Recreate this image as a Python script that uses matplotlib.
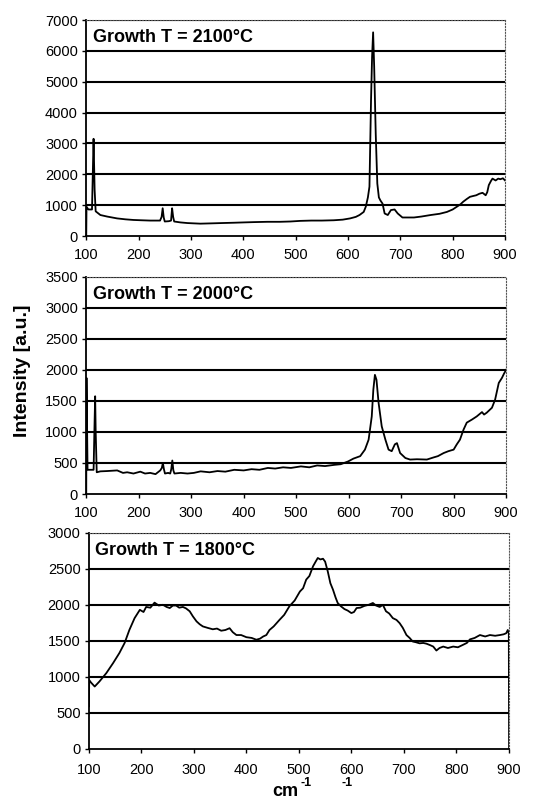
import numpy as np
import matplotlib.pyplot as plt

plt.rcParams['font.family'] = ['Liberation Sans', 'DejaVu Sans']

# Raman spectra (wavenumber, intensity)
x_2100 = [100, 100.5, 104, 111, 112.5, 114, 116, 118, 127, 140, 159, 175, 190, 205, 222, 235,
          241, 244, 246, 248, 250, 258, 262, 264, 266, 268, 280, 293, 305, 318, 340, 360,
          382, 400, 420, 446, 470, 490, 509, 530, 550, 573, 590, 604, 615, 622, 630, 634,
          638, 641, 644, 646, 648, 650, 653, 656, 659, 662, 666, 670, 676, 682, 689, 695,
          704, 715, 726, 740, 758, 775, 789, 800, 808, 815, 820, 827, 833, 840, 845, 851,
          857, 863, 866, 869, 873, 876, 882, 887, 891, 896, 900]
y_2100 = [0, 950, 860, 860, 2000, 3150, 1500, 800, 680, 630, 570, 540, 520, 510, 500, 500,
          500, 620, 900, 600, 470, 480, 500, 900, 620, 470, 440, 420, 410, 400, 410, 420,
          430, 440, 450, 460, 460, 470, 490, 500, 500, 510, 530, 570, 620, 680, 780, 950,
          1250, 1600, 4400, 5800, 6600, 5500, 3300, 1700, 1250, 1150, 1050, 730, 680, 840,
          860, 730, 600, 600, 600, 630, 680, 720, 780, 860, 950, 1030, 1110, 1200, 1270,
          1300, 1320, 1370, 1400, 1320, 1420, 1650, 1780, 1860, 1800, 1860, 1840, 1870, 1800]

x_2000 = [100, 100.5, 102.5, 110, 114, 116, 117, 118, 120, 127, 140, 159, 170, 178, 190,
          203, 212, 222, 232, 241, 244, 246, 248, 250, 256, 260, 262, 264, 266, 268, 280,
          293, 305, 318, 335, 350, 365, 382, 400, 415, 430, 446, 460, 475, 490, 509, 525,
          540, 555, 573, 585, 599, 609, 622, 631, 638, 644, 647, 650, 653, 657, 663, 670,
          676, 682, 688, 692, 698, 708, 717, 730, 749, 762, 770, 781, 790, 800, 806, 812,
          819, 825, 835, 844, 854, 858, 863, 868, 873, 879, 886, 892, 896, 900]
y_2000 = [0, 1870, 390, 390, 390, 1200, 1575, 1000, 350, 365, 370, 380, 340, 350, 330,
          360, 330, 340, 320, 380, 420, 500, 400, 330, 340, 330, 400, 540, 380, 330, 340,
          330, 340, 365, 350, 370, 360, 390, 380, 400, 390, 420, 410, 430, 420, 445, 430,
          460, 450, 470, 480, 525, 570, 610, 715, 875, 1250, 1680, 1920, 1840, 1470, 1090,
          875, 715, 690, 800, 820, 660, 580, 555, 560, 555, 590, 610, 660, 690, 715, 800,
          875, 1040, 1150, 1200, 1250, 1320, 1280, 1310, 1350, 1390, 1520, 1790, 1870, 1940, 2000]

x_1800 = [100, 100.5, 104, 111, 120, 133, 146, 158, 168, 177, 187, 197, 204, 209, 217, 225,
          233, 241, 248, 254, 260, 266, 272, 279, 285, 292, 298, 305, 311, 317, 326, 336,
          344, 352, 360, 368, 374, 381, 390, 400, 410, 419, 426, 432, 438, 444, 452, 463,
          472, 482, 492, 502, 508, 514, 520, 527, 532, 536, 541, 546, 550, 555, 560, 565,
          570, 574, 580, 587, 593, 600, 605, 610, 617, 625, 633, 641, 647, 654, 660, 666,
          672, 679, 686, 692, 698, 705, 711, 717, 723, 730, 737, 743, 750, 756, 762, 768,
          775, 784, 794, 803, 813, 820, 826, 835, 845, 855, 864, 874, 883, 890, 895, 898,
          900, 900.5]
y_1800 = [590, 955, 920, 865, 935, 1050, 1190, 1330, 1470, 1650, 1815, 1930, 1900, 1970, 1960, 2030,
          1990, 2000, 1970, 1955, 1990, 1990, 1960, 1970, 1950, 1910, 1840, 1770, 1730, 1700, 1680, 1660,
          1670, 1640, 1650, 1675, 1620, 1580, 1580, 1550, 1540, 1515, 1530, 1560, 1580, 1650, 1700, 1790,
          1860, 1980, 2060, 2185, 2230, 2350, 2400, 2535, 2600, 2650, 2630, 2640, 2600, 2465, 2300, 2210,
          2100, 2025, 1980, 1940, 1920, 1885, 1900, 1955, 1960, 1985, 2000, 2025, 1990, 1970, 2000, 1910,
          1880, 1815, 1790, 1745, 1680, 1580, 1540, 1490, 1480, 1465, 1470, 1460, 1440, 1420, 1365, 1400,
          1420, 1400, 1420, 1410, 1445, 1470, 1520, 1540, 1580, 1560, 1580, 1570, 1580, 1590, 1605, 1650,
          1600, 0]

titles = ['Growth T = 2100\u00b0C', 'Growth T = 2000\u00b0C', 'Growth T = 1800\u00b0C']
ymaxes = [7000, 3500, 3000]
ysteps = [1000, 500, 500]
xticks = [100, 200, 300, 400, 500, 600, 700, 800, 900]

fig = plt.figure(figsize=(5.39, 8), dpi=100)
boxes = [[0.160, 0.705, 0.777, 0.270],
         [0.160, 0.3825, 0.779, 0.2715],
         [0.165, 0.064, 0.779, 0.270]]
xpads = [5.5, 5.5, 7.5]
data = [(x_2100, y_2100), (x_2000, y_2000), (x_1800, y_1800)]

for box, (xs, ys), title, ymax, ystep, xpad in zip(boxes, data, titles, ymaxes, ysteps, xpads):
    ax = fig.add_axes(box)
    yt = np.arange(0, ymax + 1, ystep)
    for v in yt[1:]:
        ax.axhline(v, color='black', lw=1.5, zorder=1)
    ax.plot(xs, ys, color='black', lw=1.3, zorder=2)
    ax.set_xlim(100, 900)
    ax.set_ylim(0, ymax)
    ax.set_xticks(xticks)
    ax.set_yticks(yt)
    ax.tick_params(direction='out', length=3, width=1, labelsize=10.5, pad=3, color='black')
    ax.tick_params(axis='x', pad=xpad)
    for s in ['left', 'bottom']:
        ax.spines[s].set_linewidth(1.3)
    for s in ['top', 'right']:
        ax.spines[s].set_linestyle(':')
        ax.spines[s].set_color('#555555')
        ax.spines[s].set_linewidth(0.8)
    ax.text(0.015, 0.92, title, transform=ax.transAxes, fontsize=13,
            fontweight='bold', va='center', ha='left')

fig.text(0.042, 0.537, 'Intensity [a.u.]', rotation=90, fontsize=14,
         fontweight='bold', ha='center', va='center')
fig.text(0.505, 0.005, 'cm', fontsize=13, fontweight='bold', ha='left', va='baseline')
fig.text(0.557, 0.017, '-1', fontsize=9, fontweight='bold', ha='left', va='baseline')
fig.text(0.634, 0.017, '-1', fontsize=9, fontweight='bold', ha='left', va='baseline')

fig.savefig('out.png', dpi=100)
